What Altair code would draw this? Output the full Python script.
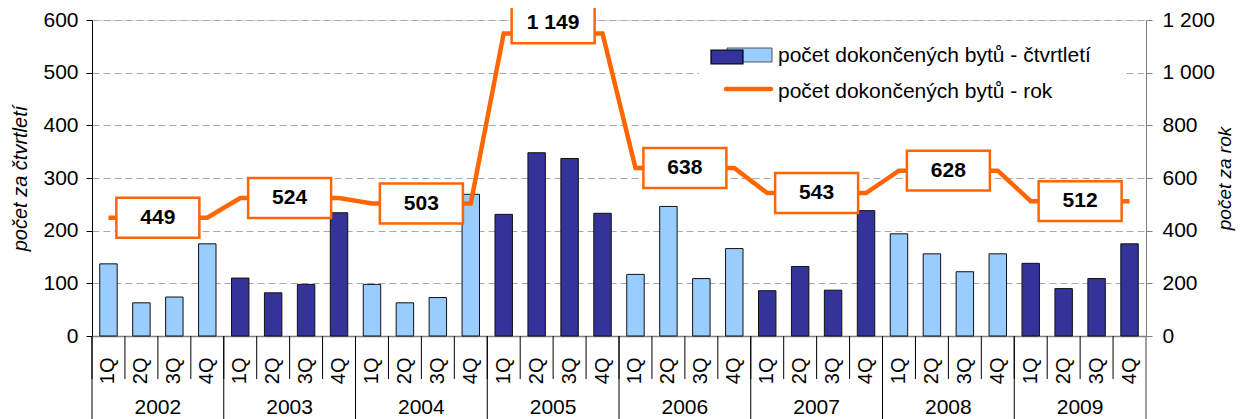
import altair as alt
import pandas as pd

years = ["2002", "2003", "2004", "2005", "2006", "2007", "2008", "2009"]
quarters = ["1Q", "2Q", "3Q", "4Q"]
quarter_values = [
    137, 63, 74, 175,
    110, 82, 98, 234,
    98, 63, 73, 269,
    231, 348, 337, 233,
    117, 246, 109, 166,
    86, 132, 87, 238,
    194, 156, 122, 156,
    138, 90, 109, 175,
]
year_totals = [449, 524, 503, 1149, 638, 543, 628, 512]
shade = ["light", "dark", "light", "dark", "light", "dark", "light", "dark"]

W, H = 1054, 316
FONT = "Liberation Sans"
ORANGE = "#FF6600"
DARK = "#333399"
LIGHT = "#99CCFF"
FS = 21

rows = []
for yi, y in enumerate(years):
    for qi, q in enumerate(quarters):
        rows.append({
            "key": f"{y}-{q}", "year": y, "q": q,
            "val": quarter_values[yi * 4 + qi],
            "total": year_totals[yi], "shade": shade[yi],
        })
df = pd.DataFrame(rows)
keys = list(df["key"])

ydf = pd.DataFrame({
    "year": years, "total": year_totals,
    "key2": [f"{y}-2Q" for y in years],
    "key1": [f"{y}-1Q" for y in years],
})

xscale = alt.Scale(domain=keys, paddingInner=0, paddingOuter=0)
yl = alt.Scale(domain=[0, 600])
yr = alt.Scale(domain=[0, 1200])

base = alt.Chart(df)

bars = base.mark_bar(width=alt.RelativeBandSize(0.53), stroke="#111111", strokeWidth=1).encode(
    x=alt.X("key:N", scale=xscale, sort=keys, axis=alt.Axis(
        title=None, ticks=False, labelAngle=270, labelPadding=21,
        labelExpr="substring(datum.value, 5)", labelFont=FONT, labelFontSize=20,
        labelColor="black", domainColor="#808080", domainWidth=1.5)),
    y=alt.Y("val:Q", scale=yl, axis=alt.Axis(
        title="počet za čtvrtletí", titleFont=FONT, titleFontSize=20,
        titleFontStyle="italic", titleFontWeight="normal", titlePadding=12,
        titleColor="black",
        values=[0, 100, 200, 300, 400, 500, 600], labelFont=FONT, labelFontSize=FS,
        labelColor="black", labelPadding=8, tickSize=6, tickColor="black",
        domainColor="black", grid=True, gridDash=[7, 4], gridColor="#A8A8A8")),
    fill=alt.Fill("shade:N", scale=alt.Scale(domain=["light", "dark"], range=[LIGHT, DARK]), legend=None),
)

line = base.mark_line(color=ORANGE, strokeWidth=4.5).encode(
    x=alt.X("key:N", scale=xscale, sort=keys),
    y=alt.Y("total:Q", scale=yr, axis=alt.Axis(
        orient="right", title="počet za rok", titleFont=FONT, titleFontSize=19,
        titleFontStyle="italic", titleFontWeight="normal", titleAngle=270,
        titlePadding=20, titleColor="black",
        values=[0, 200, 400, 600, 800, 1000, 1200],
        labelExpr="replace(format(datum.value, ','), ',', ' ')",
        labelFont=FONT, labelFontSize=FS, labelColor="black", labelPadding=10,
        tickSize=6, tickColor="#808080", domainColor="#808080", grid=False)),
)

ych = alt.Chart(ydf).transform_calculate(
    boxval="datum.total > 1100 ? datum.total + 38 : datum.total"
)
boxes = ych.mark_point(
    shape="M-1,-0.48L1,-0.48L1,0.48L-1,0.48Z", size=83 * 83, filled=True,
    fill="white", stroke=ORANGE, strokeWidth=2.5, opacity=1,
).encode(
    x=alt.X("key2:N", scale=xscale, sort=keys, bandPosition=1),
    y=alt.Y("boxval:Q", scale=yr),
)
box_text = ych.mark_text(font=FONT, fontSize=FS, fontWeight="bold", color="black", baseline="middle").encode(
    x=alt.X("key2:N", scale=xscale, sort=keys, bandPosition=1),
    y=alt.Y("boxval:Q", scale=yr),
    text=alt.Text("label:N"),
).transform_calculate(label="replace(format(datum.total, ','), ',', ' ')")

qsep = base.mark_rule(color="black", strokeWidth=1).encode(
    x=alt.X("key:N", scale=xscale, sort=keys, bandPosition=0),
    y=alt.value(H), y2=alt.value(H + 43),
)
ysep = alt.Chart(ydf).mark_rule(color="black", strokeWidth=1).encode(
    x=alt.X("key1:N", scale=xscale, sort=keys, bandPosition=0),
    y=alt.value(H), y2=alt.value(H + 90),
)
ysep_end = alt.Chart(ydf.tail(1)).mark_rule(color="#808080", strokeWidth=1.5).encode(
    x=alt.X("key2:N", scale=xscale, sort=keys, bandPosition=0),
    xOffset=alt.value(W / 32 * 3),
    y=alt.value(H), y2=alt.value(H + 90),
)
year_text = alt.Chart(ydf).mark_text(font=FONT, fontSize=FS, color="black", baseline="middle").encode(
    x=alt.X("key2:N", scale=xscale, sort=keys, bandPosition=1),
    y=alt.value(H + 72),
    text="year:N",
)

# legend
leg_bg = alt.Chart(ydf.head(1)).mark_rect(fill="white").encode(
    x=alt.value(607), x2=alt.value(1030), y=alt.value(20), y2=alt.value(85))
leg_light = alt.Chart(ydf.head(1)).mark_rect(fill=LIGHT, stroke="#555555", strokeWidth=1).encode(
    x=alt.value(635), x2=alt.value(680), y=alt.value(28), y2=alt.value(42))
leg_dark = alt.Chart(ydf.head(1)).mark_rect(fill=DARK, stroke="black", strokeWidth=1.2).encode(
    x=alt.value(619), x2=alt.value(651), y=alt.value(30), y2=alt.value(44))
leg_line = alt.Chart(ydf.head(1)).mark_rule(color=ORANGE, strokeWidth=4.5, strokeCap="round").encode(
    x=alt.value(634), x2=alt.value(679), y=alt.value(69))
leg_t1 = alt.Chart(ydf.head(1)).mark_text(font=FONT, fontSize=FS, color="black", align="left", baseline="middle").encode(
    x=alt.value(686), y=alt.value(36), text=alt.value("počet dokončených bytů - čtvrtletí"))
leg_t2 = alt.Chart(ydf.head(1)).mark_text(font=FONT, fontSize=FS, color="black", align="left", baseline="middle").encode(
    x=alt.value(686), y=alt.value(72), text=alt.value("počet dokončených bytů - rok"))

left_layer = alt.layer(leg_bg, bars, qsep, ysep, ysep_end, year_text)
right_layer = alt.layer(line, boxes, box_text)
legend_layer = alt.layer(leg_light, leg_dark, leg_line, leg_t1, leg_t2)

chart = alt.layer(left_layer, right_layer, legend_layer).resolve_scale(y="independent").properties(
    width=W, height=H,
    padding={"left": 84, "top": 12, "right": 92, "bottom": 95},
    autosize=alt.AutoSizeParams(type="none"),
).configure_view(stroke=None).configure(background="white")

chart.save("out.html", embed_options={"renderer": "svg", "actions": False})
